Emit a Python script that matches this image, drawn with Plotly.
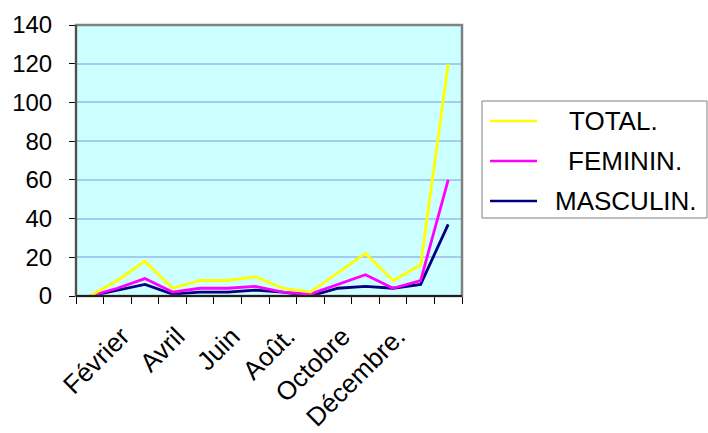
import plotly.graph_objects as go

# ---- data ----
categories = ["", "Janvier", "Février", "Mars", "Avril", "Mai", "Juin", "Juillet",
              "Août.", "Septembre", "Octobre", "Novembre", "Décembre.", "TOTAL"]
total = [0, 8, 18, 4, 8, 8, 10, 4, 2, 12, 22, 8, 16, 120]
feminin = [0, 4, 9, 2, 4, 4, 5, 2, 1, 6, 11, 4, 8, 60]
masculin = [0, 3, 6, 1, 2, 2, 3, 2, 0, 4, 5, 4, 6, 37]
series_names = ["TOTAL.", "FEMININ.", "MASCULIN."]
series_colors = ["#FFFF00", "#FF00FF", "#000080"]
y_ticks = [0, 20, 40, 60, 80, 100, 120, 140]

W, H = 708, 433
L, R, T, B = 76, 462, 25, 296   # plot area in pixels

def px(x):
    return (x - L) / (R - L)

def py(y):
    return (B - y) / (B - T)

xs = list(range(len(categories)))
series_values = [total, feminin, masculin]

fig = go.Figure()
# draw MASCULIN first, TOTAL on top
for name, vals, col in reversed(list(zip(series_names, series_values, series_colors))):
    fig.add_trace(go.Scatter(x=xs, y=vals, mode="lines", name=name,
                             line=dict(color=col, width=2.8), showlegend=False))

tick_idx = [i for i in xs if i % 2 == 0 and categories[i]]
font_family = "Liberation Sans, Arial, sans-serif"

fig.update_layout(
    width=W, height=H,
    margin=dict(l=L, r=W - R, t=T, b=H - B, autoexpand=False),
    paper_bgcolor="white",
    plot_bgcolor="#CCFFFF",
    font=dict(family=font_family, size=24, color="black"),
    xaxis=dict(
        range=[-0.5, len(categories) - 0.5],
        tickmode="array",
        tickvals=tick_idx,
        ticktext=[categories[i] for i in tick_idx],
        tickangle=-45,
        ticks="",
        showgrid=False, zeroline=False,
        showline=False,
        automargin=False,
        minor=dict(tickmode="linear", tick0=-0.5, dtick=1, ticks="outside",
                   ticklen=7, tickcolor="black", tickwidth=1, showgrid=False),
        ticklabelstandoff=19,
        ticklabelshift=-23,
        tickfont=dict(size=26),
    ),
    yaxis=dict(
        range=[0, 140],
        tickmode="array",
        tickvals=y_ticks,
        ticks="outside", ticklen=6, tickcolor="black", tickwidth=1,
        showgrid=True, gridcolor="#A6CAF0", gridwidth=1.5,
        zeroline=False, showline=False,
        automargin=False,
        ticklabelstandoff=12,
        tickfont=dict(size=24),
    ),
)

# plot border (gray) and bottom axis (black)
fig.add_shape(type="rect", xref="paper", yref="paper", x0=0, y0=0, x1=1, y1=1,
              line=dict(color="#808080", width=2.5), layer="above")
fig.add_shape(type="line", xref="paper", yref="paper", x0=0, y0=0, x1=1, y1=0,
              line=dict(color="black", width=1.5), layer="above")
fig.add_shape(type="line", xref="paper", yref="paper", x0=0, y0=0, x1=0, y1=1,
              line=dict(color="#404040", width=1.5), layer="above")

# manual legend
fig.add_shape(type="rect", xref="paper", yref="paper",
              x0=px(482), x1=px(707), y0=py(218), y1=py(101),
              line=dict(color="#808080", width=1), fillcolor="white")
legend_y = [121, 161, 201]
legend_cx = [613, 625, 626]
for name, col, yy, cx in zip(series_names, series_colors, legend_y, legend_cx):
    fig.add_shape(type="line", xref="paper", yref="paper",
                  x0=px(490), x1=px(537), y0=py(yy), y1=py(yy),
                  line=dict(color=col, width=2.6))
    fig.add_annotation(x=px(cx), y=py(yy), xref="paper", yref="paper",
                       text=name, showarrow=False, xanchor="center", yanchor="middle",
                       font=dict(size=26, family=font_family, color="black"))

fig.write_html("out.html", config={"displayModeBar": False},
               post_script="document.body.style.margin='0px';")
